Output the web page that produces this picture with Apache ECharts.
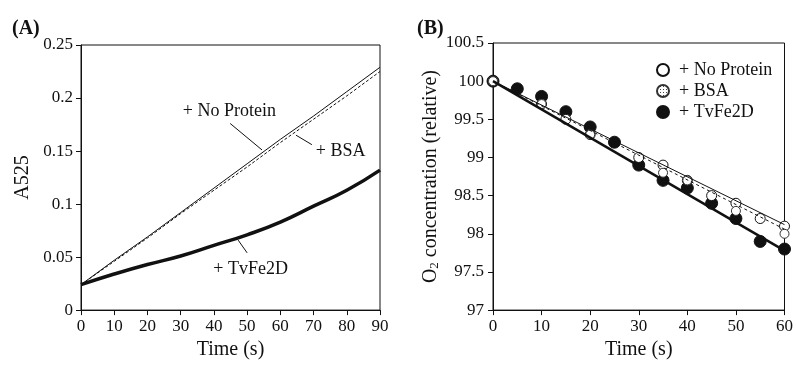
<!DOCTYPE html>
<html>
<head>
<meta charset="utf-8">
<script src="https://cdn.jsdelivr.net/npm/echarts@6/dist/echarts.min.js"></script>
<style>
  html, body { margin: 0; padding: 0; background: #fff; }
  #chart { width: 796px; height: 365px; }
</style>
</head>
<body>
<div id="chart"></div>
<script>
// panel A: absorbance at 525 nm
const timeA = [0, 10, 20, 30, 40, 50, 60, 70, 80, 90];
const a525NoProtein = [0.024, 0.047, 0.069, 0.092, 0.115, 0.138, 0.161, 0.183, 0.206, 0.229];
const a525BSA = [0.024, 0.046, 0.068, 0.091, 0.113, 0.135, 0.158, 0.180, 0.202, 0.225];
const a525TvFe2D = [0.024, 0.034, 0.043, 0.051, 0.061, 0.071, 0.083, 0.098, 0.113, 0.132];

// panel A labels (data coords) and leader lines
const labelsA = [
  {name: '+ No Protein', value: [44.8, 0.187]},
  {name: '+ BSA', value: [78.3, 0.149]},
  {name: '+ TvFe2D', value: [51.2, 0.038]}
];
const leadersA = [
  [[44.9, 0.176], [54.5, 0.151]],
  [[64.7, 0.165], [69.5, 0.156]],
  [[47.3, 0.066], [50.0, 0.054]]
];

// panel B: O2 concentration points
const o2NoProtein = [[0, 100], [10, 99.7], [15, 99.5], [20, 99.3], [30, 99.0], [35, 98.9], [40, 98.7], [45, 98.5], [50, 98.4], [55, 98.2], [60, 98.1]];
const o2BSA = [[0, 100], [10, 99.7], [20, 99.3], [35, 98.8], [40, 98.7], [50, 98.3], [60, 98.0]];
const o2TvFe2D = [[0, 100], [5, 99.9], [10, 99.8], [15, 99.6], [20, 99.4], [25, 99.2], [30, 98.9], [35, 98.7], [40, 98.6], [45, 98.4], [50, 98.2], [55, 97.9], [60, 97.8]];

// panel B fitted lines
const fitTime = [0, 60];
const fitNoProtein = [100, 98.12];
const fitBSA = [100, 98.06];
const fitTvFe2D = [100, 97.78];

const FONT = 'Liberation Serif';
const INK = '#111';

function pairs(xs, ys) { return xs.map((x, i) => [x, ys[i]]); }

// dotted fill for the BSA symbol
const dots = document.createElement('canvas');
dots.width = 3; dots.height = 3;
const dctx = dots.getContext('2d');
dctx.fillStyle = '#fff'; dctx.fillRect(0, 0, 3, 3);
dctx.fillStyle = '#444'; dctx.fillRect(1, 1, 1, 1);

const axisCommon = {
  axisLine: {lineStyle: {color: INK, width: 1}},
  axisTick: {show: true, length: 5, lineStyle: {color: INK}},
  axisLabel: {color: INK, fontFamily: FONT, fontSize: 17, margin: 8},
  splitLine: {show: false},
  nameTextStyle: {color: INK, fontFamily: FONT, fontSize: 20}
};

const chart = echarts.init(document.getElementById('chart'));
chart.setOption({
  animation: false,
  title: [
    {text: '(A)', left: 7, top: 14, textStyle: {fontFamily: FONT, fontSize: 20, fontWeight: 'bold', color: INK}},
    {text: '(B)', left: 412, top: 14, textStyle: {fontFamily: FONT, fontSize: 20, fontWeight: 'bold', color: INK}}
  ],
  grid: [
    {left: 81, top: 45, width: 299, height: 270, show: true, borderColor: INK, borderWidth: 1},
    {left: 493, top: 43, width: 298, height: 272, show: true, borderColor: INK, borderWidth: 1}
  ],
  xAxis: [
    Object.assign({}, axisCommon, {gridIndex: 0, type: 'value', min: 0, max: 90, interval: 10,
      name: 'Time (s)', nameLocation: 'middle', nameGap: 26}),
    Object.assign({}, axisCommon, {gridIndex: 1, type: 'value', min: 0, max: 60, interval: 10,
      name: 'Time (s)', nameLocation: 'middle', nameGap: 26})
  ],
  yAxis: [
    Object.assign({}, axisCommon, {gridIndex: 0, type: 'value', min: 0, max: 0.25, interval: 0.05,
      name: 'A525', nameLocation: 'middle', nameGap: 48}),
    Object.assign({}, axisCommon, {gridIndex: 1, type: 'value', min: 97, max: 100.5, interval: 0.5,
      axisLabel: {color: INK, fontFamily: FONT, fontSize: 17, margin: 9},
      name: 'O{sub|2} concentration (relative)', nameLocation: 'middle', nameGap: 52,
      nameTextStyle: {color: INK, fontFamily: FONT, fontSize: 20,
        rich: {sub: {fontFamily: FONT, fontSize: 13, verticalAlign: 'bottom', padding: [8, 0, 0, 0]}}}})
  ],
  legend: {
    orient: 'vertical', left: 651, top: 56, itemGap: 3, itemWidth: 14, itemHeight: 12,
    textStyle: {fontFamily: FONT, fontSize: 18, color: INK, padding: [0, 0, 0, 4]},
    data: ['+ No Protein', '+ BSA', '+ TvFe2D']
  },
  series: [
    {type: 'line', xAxisIndex: 0, yAxisIndex: 0, data: pairs(timeA, a525NoProtein), showSymbol: false,
      lineStyle: {color: INK, width: 1}},
    {type: 'line', xAxisIndex: 0, yAxisIndex: 0, data: pairs(timeA, a525BSA), showSymbol: false,
      lineStyle: {color: INK, width: 1, type: [3, 2]}},
    {type: 'line', xAxisIndex: 0, yAxisIndex: 0, data: pairs(timeA, a525TvFe2D), showSymbol: false, smooth: true,
      lineStyle: {color: INK, width: 3.5}},
    {type: 'lines', coordinateSystem: 'cartesian2d', xAxisIndex: 0, yAxisIndex: 0,
      data: leadersA.map(c => ({coords: c})), lineStyle: {color: INK, width: 1, opacity: 1}},
    {type: 'scatter', xAxisIndex: 0, yAxisIndex: 0, data: labelsA, symbolSize: 1,
      itemStyle: {color: 'rgba(0,0,0,0)'},
      label: {show: true, position: [0, 0], align: 'center', verticalAlign: 'middle', formatter: '{b}',
        color: INK, fontFamily: FONT, fontSize: 18, textBorderWidth: 0, opacity: 1}},

    // panel B fits
    {type: 'line', xAxisIndex: 1, yAxisIndex: 1, data: pairs(fitTime, fitTvFe2D), showSymbol: false,
      lineStyle: {color: INK, width: 2.5}},
    {type: 'line', xAxisIndex: 1, yAxisIndex: 1, data: pairs(fitTime, fitNoProtein), showSymbol: false,
      lineStyle: {color: INK, width: 1}},
    {type: 'line', xAxisIndex: 1, yAxisIndex: 1, data: pairs(fitTime, fitBSA), showSymbol: false,
      lineStyle: {color: INK, width: 1, type: [3, 3]}},

    // panel B points
    {name: '+ TvFe2D', type: 'scatter', xAxisIndex: 1, yAxisIndex: 1, data: o2TvFe2D, symbolSize: 12,
      itemStyle: {color: INK, borderColor: INK, borderWidth: 1, opacity: 1}},
    {name: '+ No Protein', type: 'scatter', xAxisIndex: 1, yAxisIndex: 1, data: o2NoProtein, symbolSize: 10,
      itemStyle: {color: '#fff', borderColor: INK, borderWidth: 1, opacity: 1}},
    {name: '+ BSA', type: 'scatter', xAxisIndex: 1, yAxisIndex: 1, data: o2BSA, symbolSize: 9,
      itemStyle: {color: {image: dots, repeat: 'repeat'}, borderColor: '#333', borderWidth: 1, opacity: 1}}
  ]
});
</script>
</body>
</html>
